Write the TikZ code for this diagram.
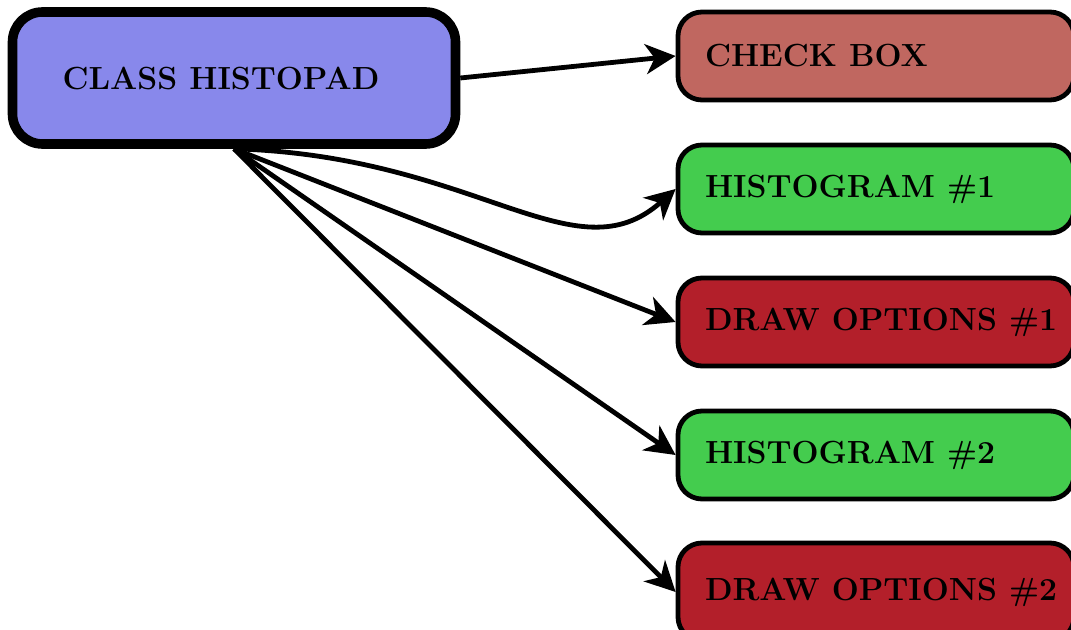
\documentclass[tikz,border=0pt]{standalone}
\usetikzlibrary{arrows.meta}
\definecolor{padblue}{RGB}{136,136,235}
\definecolor{boxrose}{RGB}{192,103,96}
\definecolor{histgreen}{RGB}{68,204,78}
\definecolor{optred}{RGB}{179,31,42}
% left-aligned label of fixed width, allowed to run past its slot
\newcommand{\lbl}[2]{\makebox[#1][l]{#2}}
\tikzset{
  padbox/.style={draw=black, line width=4.8pt, fill=padblue, rounded corners=15pt,
    minimum width=221.5pt, minimum height=66pt, inner xsep=25pt,
    font=\fontsize{16}{19}\selectfont\bfseries},
  itembox/.style={draw=black, line width=2.4pt, rounded corners=12pt,
    minimum width=198pt, minimum height=44pt, inner xsep=13.5pt,
    font=\fontsize{16}{19}\selectfont\bfseries},
  link/.style={line width=2.4pt, -{Stealth[length=15pt,width=15pt,inset=4.5pt]}}
}
\begin{document}
\begin{tikzpicture}[x=0.5pt,y=-0.5pt]
  \useasboundingbox (0,0) rectangle (1071,630);
  \clip (0,0) rectangle (1071,630);
  % source node
  \node[padbox] (pad) at (234,78) {\lbl{171.5pt}{CLASS HISTOPAD}};
  % member nodes
  \node[itembox, fill=boxrose]   (check) at (876,56)  {\lbl{171pt}{CHECK BOX}};
  \node[itembox, fill=histgreen] (hone)  at (876,189) {\lbl{171pt}{HISTOGRAM \#1}};
  \node[itembox, fill=optred]    (oone)  at (876,322) {\lbl{171pt}{DRAW OPTIONS \#1}};
  \node[itembox, fill=histgreen] (htwo)  at (876,455) {\lbl{171pt}{HISTOGRAM \#2}};
  \node[itembox, fill=optred, minimum height=49pt] (otwo) at (876,592) {\lbl{171pt}{DRAW OPTIONS \#2}};
  % connectors
  \draw[link] (pad.east) -- (check.west);
  \draw[link] (pad.south) .. controls +(243,7) and +(-101,90) .. (hone.west);
  \draw[link] (pad.south) -- (oone.west);
  \draw[link] (pad.south) -- (htwo.west);
  \draw[link] (pad.south) -- (otwo.west);
\end{tikzpicture}
\end{document}
